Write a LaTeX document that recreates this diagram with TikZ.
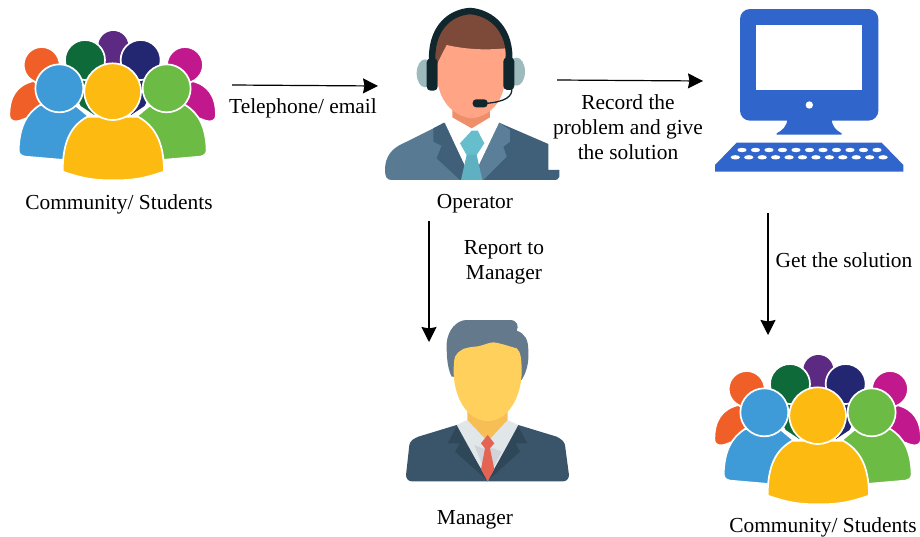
\documentclass[tikz,border=0pt]{standalone}
\usepackage{fontspec}
\setmainfont{Liberation Serif}
\usepackage{tikz}
\usetikzlibrary{arrows.meta}
\definecolor{crowdorange}{HTML}{F15F28}
\definecolor{crowdgreen}{HTML}{0F6A3A}
\definecolor{crowdpurple}{HTML}{5C2A82}
\definecolor{crowdnavy}{HTML}{232670}
\definecolor{crowdpink}{HTML}{C2188E}
\definecolor{crowdblue}{HTML}{3F9BD8}
\definecolor{crowdlime}{HTML}{6BBB45}
\definecolor{crowdyellow}{HTML}{FDBB11}
\definecolor{pcblue}{HTML}{3065CC}
\definecolor{suitmid}{HTML}{587A92}
\definecolor{suitdark}{HTML}{3F6078}
\definecolor{suitlight}{HTML}{5B7F98}
\definecolor{tieteal}{HTML}{66BDCB}
\definecolor{bossuit}{HTML}{3A556A}
\definecolor{bosslapel}{HTML}{2F4859}
\tikzset{
	lbl/.style={inner sep=0pt,align=center,font=\fontsize{21.4}{25}\selectfont},
	flow/.style={->,>={Stealth[length=15pt,width=15pt,inset=1.5pt]},line width=1.2pt},
	member/.style={fill=#1,draw=white,line width=1.7pt},
	crowd/.pic={
		\begin{scope}[x=0.3333pt,y=-0.3333pt]
		\fill[member=crowdpurple] (310,100) -- (370,100) -- (360,190) -- (320,190) -- cycle;
		\fill[crowdpurple] (340,78) circle [radius=45];
		\path[member=crowdorange] (28,285) .. controls (28,230) and (50,195) .. (100,183) -- (200,250) -- (60,302) .. controls (45,307) and (28,305) .. (28,285) -- cycle;
		\path[member=crowdorange] (125,135) circle [radius=54];
		\path[member=crowdpink] (648,285) .. controls (648,230) and (626,195) .. (576,183) -- (476,250) -- (616,302) .. controls (631,307) and (648,305) .. (648,285) -- cycle;
		\path[member=crowdpink] (555,135) circle [radius=54];
		\path[member=crowdgreen] (190,160) -- (320,160) -- (285,290) -- (240,260) -- cycle;
		\path[member=crowdgreen] (255,120) circle [radius=60];
		\path[member=crowdnavy] (486,160) -- (356,160) -- (391,290) -- (436,260) -- cycle;
		\path[member=crowdnavy] (422,120) circle [radius=60];
		\path[member=crowdblue] (56,390) .. controls (58,320) and (80,280) .. (120,255) -- (225,255) -- (270,292) -- (190,420) -- (75,410) .. controls (62,407) and (56,402) .. (56,390) -- cycle;
		\path[member=crowdlime] (620,390) .. controls (618,320) and (596,280) .. (556,255) -- (451,255) -- (406,292) -- (486,420) -- (601,410) .. controls (614,407) and (620,402) .. (620,390) -- cycle;
		\path[member=crowdblue] (178,205) circle [radius=72];
		\path[member=crowdlime] (500,205) circle [radius=72];
		\path[member=crowdyellow] (188,455) .. controls (188,365) and (212,318) .. (262,290) -- (414,290) .. controls (464,318) and (492,365) .. (492,455) .. controls (430,476) and (400,481) .. (340,481) .. controls (280,481) and (250,476) .. (188,455) -- cycle;
		\path[member=crowdyellow] (338,215) circle [radius=85];
		\end{scope}
	},
	operatoricon/.pic={
		\begin{scope}[x=0.3333pt,y=-0.3333pt]
		\fill[HTML=9DBABD] (150,220) ellipse [x radius=25,y radius=42];
		\fill[HTML=9DBABD] (425,215) ellipse [x radius=25,y radius=42];
		% jacket
		\fill[suitmid] (30,510) .. controls (30,470) and (50,445) .. (85,430) -- (210,368) -- (290,540) -- (50,540) .. controls (35,540) and (30,530) .. (30,510) -- cycle;
		\fill[suitdark] (290,540) -- (372,368) -- (520,432) -- (520,510) -- (553,510) -- (553,530) .. controls (553,538) and (545,540) .. (535,540) -- cycle;
		\fill[suitdark] (207,368) -- (175,385) -- (175,425) -- (200,437) -- (185,475) -- (255,540) -- (290,540) -- cycle;
		\fill[suitlight] (372,368) -- (405,390) -- (405,425) -- (385,440) -- (395,470) -- (325,540) -- (290,540) -- cycle;
		\fill[white] (210,368) -- (240,345) -- (345,345) -- (372,368) -- (290,540) -- cycle;
		\fill[HTML=EE8F6A] (232,320) -- (345,320) -- (345,352) -- (290,385) -- (232,352) -- cycle;
		\fill[tieteal] (290,392) -- (255,430) -- (275,465) -- (305,465) -- (328,430) -- (308,392) -- cycle;
		\fill[HTML=5FB0C0] (275,465) -- (258,540) -- (322,540) -- (305,465) -- cycle;
		% head
		\fill[HTML=7D4A3A] (180,190) .. controls (160,100) and (220,35) .. (285,35) .. controls (360,35) and (410,100) .. (392,190) -- cycle;
		\fill[HTML=FFA585] (187,190) -- (215,135) .. controls (280,150) and (340,150) .. (392,145) -- (390,240) .. controls (385,310) and (340,350) .. (290,355) .. controls (240,350) and (195,310) .. (187,240) -- cycle;
		% headset
		\draw[HTML=10272E,line width=6.5pt] (172,190) .. controls (165,90) and (220,38) .. (285,33) .. controls (350,38) and (410,90) .. (402,190);
		\fill[HTML=10272E,rounded corners=4pt] (155,175) rectangle (188,272);
		\fill[HTML=10272E,rounded corners=4pt] (385,172) rectangle (418,270);
		\draw[HTML=10272E,line width=1.3pt] (410,262) .. controls (415,290) and (390,305) .. (335,310);
		\fill[HTML=10272E,rounded corners=3.5pt] (293,298) rectangle (338,322);
		\end{scope}
	},
	computericon/.pic={
		\begin{scope}[x=0.3333pt,y=-0.3333pt]
		\fill[pcblue,rounded corners=10pt] (120,27) rectangle (535,362);
		\fill[white] (168,75) rectangle (486,270);
		\fill[white] (328,315) circle [radius=11];
		\fill[pcblue] (262,355) .. controls (262,380) and (245,392) .. (230,400) -- (230,404) -- (425,404) -- (425,400) .. controls (410,392) and (395,380) .. (395,355) -- cycle;
		\fill[pcblue] (110,428) -- (545,428) -- (610,495) -- (610,515) -- (45,515) -- (45,495) -- cycle;
		\foreach \k in {0,...,10}
			\fill[white] (126+40.5*\k,450) ellipse [x radius=14,y radius=6.5];
		\foreach \k in {0,...,11}
			\fill[white] (106+40.3*\k,472) ellipse [x radius=14,y radius=6.5];
		\end{scope}
	},
	managericon/.pic={
		\begin{scope}[x=0.3333pt,y=-0.3333pt]
		\fill[HTML=647A8C] (170,200) .. controls (155,170) and (155,130) .. (155,100) .. controls (158,60) and (185,30) .. (215,30) -- (345,30) .. controls (368,30) and (372,50) .. (365,62) .. controls (390,70) and (400,90) .. (400,120) .. controls (402,160) and (395,185) .. (380,210) -- cycle;
		\fill[HTML=F7BE56] (217,290) -- (338,290) -- (338,345) -- (278,395) -- (217,345) -- cycle;
		\fill[HTML=FFD15C] (180,140) .. controls (190,120) and (210,112) .. (240,110) .. controls (265,108) and (280,97) .. (295,97) .. controls (320,100) and (345,110) .. (365,115) .. controls (378,125) and (380,150) .. (380,190) .. controls (378,260) and (340,333) .. (278,333) .. controls (215,333) and (178,260) .. (176,190) .. controls (176,170) and (176,155) .. (180,140) -- cycle;
		\fill[HTML=E1E6E9] (185,345) -- (217,330) -- (278,395) -- (338,330) -- (370,345) -- (278,515) -- cycle;
		\fill[HTML=D0D3D9] (238,405) -- (262,415) -- (295,415) -- (320,425) -- (278,505) -- cycle;
		\fill[bossuit] (33,495) -- (43,405) .. controls (45,392) and (58,385) .. (70,380) -- (185,345) -- (278,515) -- (370,345) -- (485,380) .. controls (500,388) and (508,395) .. (510,405) -- (522,495) .. controls (522,505) and (515,514) .. (505,514) -- (50,514) .. controls (40,514) and (33,505) .. (33,495) -- cycle;
		\fill[bosslapel] (185,350) -- (158,400) -- (195,400) -- (180,425) -- (278,512) -- cycle;
		\fill[bosslapel] (370,350) -- (397,400) -- (362,400) -- (375,425) -- (278,512) -- cycle;
		\fill[HTML=E56353] (278,375) -- (258,400) -- (270,415) -- (258,478) -- (278,514) -- (298,478) -- (285,415) -- (298,400) -- cycle;
		\end{scope}
	},
	HTML/.code={\definecolor{tmpicon}{HTML}{#1}\pgfkeysalso{color=tmpicon}}
}
\begin{document}
\begin{tikzpicture}[x=1pt,y=-1pt]
	\useasboundingbox (0,0) rectangle (920,536);

	\pic (students1) at (0,20) {crowd};
	\pic (operator) at (375,0) {operatoricon};
	\pic (computer) at (700,0) {computericon};
	\pic (manager) at (395,310) {managericon};
	\pic (students2) at (705,344) {crowd};

	\node[lbl] (lstudents1) at (119,204) {Community/ Students};
	\node[lbl] (loperator) [right of=lstudents1,node distance=356pt] {Operator};
	\node[lbl] (lmanager) [below of=loperator,node distance=316pt] {Manager};
	\node[lbl] (lstudents2) at (823,527) {Community/ Students};
	\node[lbl] (ltelephone) at (303,108) {Telephone/ email};
	\node[lbl] (lrecord) at (628,127) {Record the\\problem and give\\the solution};
	\node[lbl] (lreport) at (504,262) {Report to\\Manager};
	\node[lbl] (lsolution) at (844,260) {Get the solution};

	\coordinate (a1) at (232,85);
	\coordinate (a2) at (378,86);
	\coordinate (b1) at (557,80);
	\coordinate (b2) at (703,81);
	\coordinate (c1) at (429,221);
	\coordinate (c2) at (429,342);
	\coordinate (d1) at (768,213);
	\coordinate (d2) at (768,335);

	\draw[flow] (a1) -- (a2);
	\draw[flow] (b1) -- (b2);
	\draw[flow] (c1) -- (c2);
	\draw[flow] (d1) -- (d2);
\end{tikzpicture}
\end{document}
